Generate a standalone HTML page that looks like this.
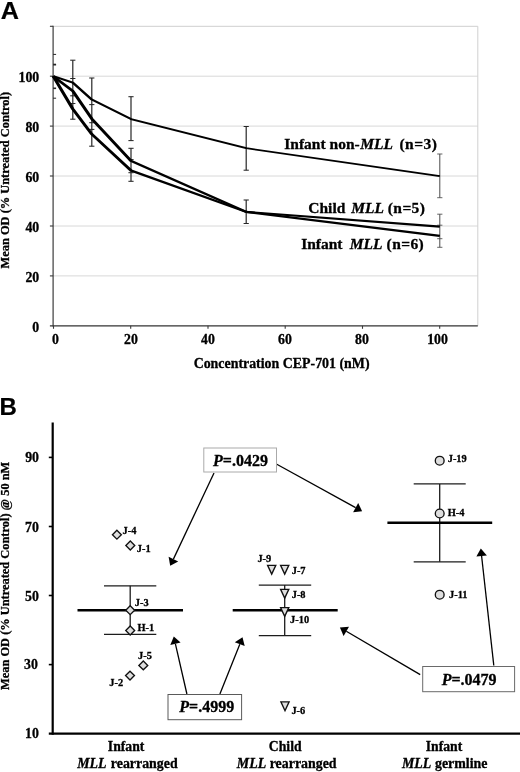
<!DOCTYPE html>
<html><head><meta charset="utf-8"><title>Figure</title>
<style>
html,body{margin:0;padding:0;background:#fff;}
body{width:520px;height:772px;overflow:hidden;font-family:"Liberation Serif",serif;}
svg{display:block;will-change:transform;}
text{font-family:"Liberation Serif",serif;font-weight:bold;fill:#000;stroke:#000;stroke-width:0.3px;}
.sans{font-family:"Liberation Sans",sans-serif;font-weight:bold;stroke-width:0.2px;}
.i{font-style:italic;}
</style></head><body>
<svg width="520" height="772" viewBox="0 0 520 772">
<rect width="520" height="772" fill="#fff"/>

<g id="panelA">
<text class="sans" transform="translate(0.7,18.8) scale(1.05,1)" font-size="24">A</text>
<line x1="53.1" y1="275.9" x2="477.8" y2="275.9" stroke="#d8d8d8" stroke-width="1"/>
<line x1="53.1" y1="226.0" x2="477.8" y2="226.0" stroke="#d8d8d8" stroke-width="1"/>
<line x1="53.1" y1="176.0" x2="477.8" y2="176.0" stroke="#d8d8d8" stroke-width="1"/>
<line x1="53.1" y1="126.1" x2="477.8" y2="126.1" stroke="#d8d8d8" stroke-width="1"/>
<line x1="53.1" y1="76.2" x2="477.8" y2="76.2" stroke="#d8d8d8" stroke-width="1"/>
<line x1="53.1" y1="26.3" x2="477.8" y2="26.3" stroke="#cfcfcf" stroke-width="1"/>
<line x1="477.8" y1="26.3" x2="477.8" y2="325.8" stroke="#d0d0d0" stroke-width="1"/>
<line x1="53.1" y1="25.8" x2="53.1" y2="326.40000000000003" stroke="#333" stroke-width="1.15"/>
<line x1="49.9" y1="325.8" x2="477.8" y2="325.8" stroke="#333" stroke-width="1.15"/>
<line x1="49.9" y1="275.9" x2="53.1" y2="275.9" stroke="#3a3a3a" stroke-width="1.1"/>
<line x1="49.9" y1="226.0" x2="53.1" y2="226.0" stroke="#3a3a3a" stroke-width="1.1"/>
<line x1="49.9" y1="176.0" x2="53.1" y2="176.0" stroke="#3a3a3a" stroke-width="1.1"/>
<line x1="49.9" y1="126.1" x2="53.1" y2="126.1" stroke="#3a3a3a" stroke-width="1.1"/>
<line x1="49.9" y1="76.2" x2="53.1" y2="76.2" stroke="#3a3a3a" stroke-width="1.1"/>
<line x1="49.9" y1="26.3" x2="53.1" y2="26.3" stroke="#3a3a3a" stroke-width="1.1"/>
<line x1="53.5" y1="325.8" x2="53.5" y2="328.8" stroke="#3a3a3a" stroke-width="1.1"/>
<line x1="130.7" y1="325.8" x2="130.7" y2="328.8" stroke="#3a3a3a" stroke-width="1.1"/>
<line x1="208.0" y1="325.8" x2="208.0" y2="328.8" stroke="#3a3a3a" stroke-width="1.1"/>
<line x1="285.2" y1="325.8" x2="285.2" y2="328.8" stroke="#3a3a3a" stroke-width="1.1"/>
<line x1="362.5" y1="325.8" x2="362.5" y2="328.8" stroke="#3a3a3a" stroke-width="1.1"/>
<line x1="439.7" y1="325.8" x2="439.7" y2="328.8" stroke="#3a3a3a" stroke-width="1.1"/>
<text x="39.2" y="331.8" font-size="13.8" text-anchor="end">0</text>
<text x="39.2" y="281.9" font-size="13.8" text-anchor="end">20</text>
<text x="39.2" y="232.0" font-size="13.8" text-anchor="end">40</text>
<text x="39.2" y="182.0" font-size="13.8" text-anchor="end">60</text>
<text x="39.2" y="132.1" font-size="13.8" text-anchor="end">80</text>
<text x="39.2" y="82.2" font-size="13.8" text-anchor="end">100</text>
<text x="55.5" y="344" font-size="13.8" text-anchor="middle">0</text>
<text x="131" y="344" font-size="13.8" text-anchor="middle">20</text>
<text x="208" y="344" font-size="13.8" text-anchor="middle">40</text>
<text x="285" y="344" font-size="13.8" text-anchor="middle">60</text>
<text x="362" y="344" font-size="13.8" text-anchor="middle">80</text>
<text x="437.5" y="344" font-size="13.8" text-anchor="middle">100</text>
<text x="281.6" y="368" font-size="13.9" text-anchor="middle">Concentration CEP-701 (nM)</text>
<text transform="translate(9.2,180.2) rotate(-90)" font-size="12.4" text-anchor="middle">Mean OD (% Untreated Control)</text>
<line x1="53.1" y1="54.4" x2="56.1" y2="54.4" stroke="#262626" stroke-width="1"/>
<line x1="53.1" y1="64.6" x2="56.1" y2="64.6" stroke="#262626" stroke-width="1.8"/>
<line x1="53.1" y1="88.3" x2="56.1" y2="88.3" stroke="#262626" stroke-width="1.6"/>
<line x1="53.1" y1="98.2" x2="56.1" y2="98.2" stroke="#262626" stroke-width="1"/>
<line x1="72.8" y1="60.2" x2="72.8" y2="119.2" stroke="#262626" stroke-width="1.2"/><line x1="70.2" y1="60.2" x2="75.39999999999999" y2="60.2" stroke="#262626" stroke-width="1.05"/><line x1="70.2" y1="78.5" x2="75.39999999999999" y2="78.5" stroke="#262626" stroke-width="1.05"/><line x1="70.2" y1="95.8" x2="75.39999999999999" y2="95.8" stroke="#262626" stroke-width="1.05"/><line x1="70.2" y1="103.5" x2="75.39999999999999" y2="103.5" stroke="#262626" stroke-width="1.05"/><line x1="70.2" y1="119.2" x2="75.39999999999999" y2="119.2" stroke="#262626" stroke-width="1.05"/>
<line x1="91.8" y1="78" x2="91.8" y2="146.2" stroke="#262626" stroke-width="1.2"/><line x1="89.2" y1="78" x2="94.39999999999999" y2="78" stroke="#262626" stroke-width="1.05"/><line x1="89.2" y1="104.6" x2="94.39999999999999" y2="104.6" stroke="#262626" stroke-width="1.05"/><line x1="89.2" y1="122.7" x2="94.39999999999999" y2="122.7" stroke="#262626" stroke-width="1.05"/><line x1="89.2" y1="129.4" x2="94.39999999999999" y2="129.4" stroke="#262626" stroke-width="1.05"/><line x1="89.2" y1="146.2" x2="94.39999999999999" y2="146.2" stroke="#262626" stroke-width="1.05"/>
<line x1="131" y1="96.7" x2="131" y2="140.6" stroke="#262626" stroke-width="1.2"/><line x1="128.4" y1="96.7" x2="133.6" y2="96.7" stroke="#262626" stroke-width="1.05"/><line x1="128.4" y1="140.6" x2="133.6" y2="140.6" stroke="#262626" stroke-width="1.05"/>
<line x1="131" y1="148.3" x2="131" y2="181.3" stroke="#262626" stroke-width="1.2"/><line x1="128.4" y1="148.3" x2="133.6" y2="148.3" stroke="#262626" stroke-width="1.05"/><line x1="128.4" y1="159.6" x2="133.6" y2="159.6" stroke="#262626" stroke-width="1.05"/><line x1="128.4" y1="172.7" x2="133.6" y2="172.7" stroke="#262626" stroke-width="1.05"/><line x1="128.4" y1="181.3" x2="133.6" y2="181.3" stroke="#262626" stroke-width="1.05"/>
<line x1="246.2" y1="126.5" x2="246.2" y2="170.2" stroke="#262626" stroke-width="1.2"/><line x1="243.6" y1="126.5" x2="248.79999999999998" y2="126.5" stroke="#262626" stroke-width="1.05"/><line x1="243.6" y1="170.2" x2="248.79999999999998" y2="170.2" stroke="#262626" stroke-width="1.05"/>
<line x1="246.2" y1="200" x2="246.2" y2="223.5" stroke="#262626" stroke-width="1.2"/><line x1="243.6" y1="200" x2="248.79999999999998" y2="200" stroke="#262626" stroke-width="1.05"/><line x1="243.6" y1="223.5" x2="248.79999999999998" y2="223.5" stroke="#262626" stroke-width="1.05"/>
<line x1="439.8" y1="154" x2="439.8" y2="197.7" stroke="#4a4a4a" stroke-width="1.0"/><line x1="437.2" y1="154" x2="442.40000000000003" y2="154" stroke="#4a4a4a" stroke-width="0.85"/><line x1="437.2" y1="197.7" x2="442.40000000000003" y2="197.7" stroke="#4a4a4a" stroke-width="0.85"/>
<line x1="439.8" y1="214.2" x2="439.8" y2="247.3" stroke="#4a4a4a" stroke-width="1.0"/><line x1="437.2" y1="214.2" x2="442.40000000000003" y2="214.2" stroke="#4a4a4a" stroke-width="0.85"/><line x1="437.2" y1="225.2" x2="442.40000000000003" y2="225.2" stroke="#4a4a4a" stroke-width="0.85"/><line x1="437.2" y1="238.7" x2="442.40000000000003" y2="238.7" stroke="#4a4a4a" stroke-width="0.85"/><line x1="437.2" y1="247.3" x2="442.40000000000003" y2="247.3" stroke="#4a4a4a" stroke-width="0.85"/>
<polyline transform="scale(1.5,1)" points="35.467,76.2 48.533,82.6 61.200,99.6 87.333,119.1 164.133,148.2 293.200,176.2" fill="none" stroke="#000" stroke-width="1.85" stroke-linejoin="round" stroke-linecap="butt"/>
<polyline transform="scale(1.5,1)" points="35.467,76.2 48.533,91 61.200,118.8 87.333,160.8 164.133,211.9 293.200,226.7" fill="none" stroke="#000" stroke-width="2.2" stroke-linejoin="round" stroke-linecap="butt"/>
<polyline transform="scale(1.5,1)" points="35.467,76.2 48.533,109 61.200,134.2 87.333,170.5 164.133,211.9 293.200,235.8" fill="none" stroke="#000" stroke-width="2.2" stroke-linejoin="round" stroke-linecap="butt"/>
<text y="149.2" font-size="15.5"><tspan x="284.3">Infant non-</tspan><tspan class="i" x="360.3">MLL</tspan><tspan x="399.4" letter-spacing="0.5">(n=3)</tspan></text>
<text y="213.1" font-size="15.5"><tspan x="308.3">Child</tspan><tspan class="i" x="351.2">MLL</tspan><tspan x="387.8" letter-spacing="0.4">(n=5)</tspan></text>
<text y="248.5" font-size="15.5"><tspan x="301.2">Infant</tspan><tspan class="i" x="349.7">MLL</tspan><tspan x="386.6" letter-spacing="0.4">(n=6)</tspan></text>
</g>
<g id="panelB">
<text class="sans" transform="translate(-0.5,414.9)" font-size="24">B</text>
<line x1="52.7" y1="422.5" x2="52.7" y2="734.7" stroke="#000" stroke-width="2.2"/>
<line x1="48.8" y1="733.6" x2="520" y2="733.6" stroke="#000" stroke-width="2.2"/>
<line x1="48.8" y1="664.6" x2="52.7" y2="664.6" stroke="#000" stroke-width="1.6"/>
<line x1="48.8" y1="595.5" x2="52.7" y2="595.5" stroke="#000" stroke-width="1.6"/>
<line x1="48.8" y1="526.5" x2="52.7" y2="526.5" stroke="#000" stroke-width="1.6"/>
<line x1="48.8" y1="457.4" x2="52.7" y2="457.4" stroke="#000" stroke-width="1.6"/>
<text x="38.9" y="738.4" font-size="13.8" text-anchor="end">10</text>
<text x="37.8" y="668.9" font-size="13.8" text-anchor="end">30</text>
<text x="38.8" y="600.6" font-size="13.8" text-anchor="end">50</text>
<text x="38.8" y="532.4" font-size="13.8" text-anchor="end">70</text>
<text x="39.0" y="462.2" font-size="13.8" text-anchor="end">90</text>
<text transform="translate(9.2,575.8) rotate(-90)" font-size="12.4" text-anchor="middle">Mean OD (% Untreated Control) @ 50 nM</text>
<text x="126.1" y="751.2" font-size="13.7" text-anchor="middle">Infant</text>
<text y="767.6" font-size="13.9"><tspan class="i" x="77.2">MLL</tspan><tspan x="110.8">rearranged</tspan></text>
<text x="285.2" y="751.2" font-size="13.7" text-anchor="middle">Child</text>
<text y="767.6" font-size="13.9"><tspan class="i" x="236.8">MLL</tspan><tspan x="269.7">rearranged</tspan></text>
<text x="444" y="751.2" font-size="13.7" text-anchor="middle">Infant</text>
<text y="767.6" font-size="13.9"><tspan class="i" x="401.9">MLL</tspan><tspan x="435">germline</tspan></text>
<line x1="104" y1="585.8" x2="156.3" y2="585.8" stroke="#1c1c1c" stroke-width="1.3"/>
<line x1="104" y1="634.4" x2="156.3" y2="634.4" stroke="#1c1c1c" stroke-width="1.3"/>
<line x1="130.2" y1="585.8" x2="130.2" y2="634.4" stroke="#1c1c1c" stroke-width="1.3"/>
<line x1="77.5" y1="610.2" x2="183" y2="610.2" stroke="#000" stroke-width="2.6"/>
<line x1="258.8" y1="585.1" x2="311.2" y2="585.1" stroke="#1c1c1c" stroke-width="1.3"/>
<line x1="258.8" y1="635.7" x2="311.2" y2="635.7" stroke="#1c1c1c" stroke-width="1.3"/>
<line x1="284.7" y1="585.1" x2="284.7" y2="635.7" stroke="#1c1c1c" stroke-width="1.3"/>
<line x1="232.7" y1="610.2" x2="337.7" y2="610.2" stroke="#000" stroke-width="2.6"/>
<line x1="413.7" y1="483.9" x2="465.7" y2="483.9" stroke="#1c1c1c" stroke-width="1.3"/>
<line x1="413.7" y1="561.8" x2="465.7" y2="561.8" stroke="#1c1c1c" stroke-width="1.3"/>
<line x1="439.7" y1="483.9" x2="439.7" y2="561.8" stroke="#1c1c1c" stroke-width="1.3"/>
<line x1="387.4" y1="522.8" x2="492.2" y2="522.8" stroke="#000" stroke-width="2.6"/>
<polygon points="116.9,530.25 121.35000000000001,534.7 116.9,539.1500000000001 112.45,534.7" fill="#dedede" stroke="#111" stroke-width="1.35"/>
<polygon points="130.3,541.05 134.75,545.5 130.3,549.95 125.85000000000001,545.5" fill="#dedede" stroke="#111" stroke-width="1.35"/>
<polygon points="130.2,605.75 134.64999999999998,610.2 130.2,614.6500000000001 125.74999999999999,610.2" fill="#dedede" stroke="#111" stroke-width="1.35"/>
<polygon points="130.2,626.05 134.64999999999998,630.5 130.2,634.95 125.74999999999999,630.5" fill="#dedede" stroke="#111" stroke-width="1.35"/>
<polygon points="143.3,660.9499999999999 147.75,665.4 143.3,669.85 138.85000000000002,665.4" fill="#dedede" stroke="#111" stroke-width="1.35"/>
<polygon points="130.0,671.15 134.45,675.6 130.0,680.0500000000001 125.55,675.6" fill="#dedede" stroke="#111" stroke-width="1.35"/>
<text x="122.6" y="534.4" font-size="10.4">J-4</text>
<text x="136.8" y="551.7" font-size="10.4">J-1</text>
<text x="134.8" y="605.9" font-size="10.4">J-3</text>
<text x="137.5" y="630.5" font-size="10.4">H-1</text>
<text x="138.0" y="658.7" font-size="10.4">J-5</text>
<text x="109.3" y="685.9" font-size="10.4">J-2</text>
<polygon points="267.59999999999997,565.3 275.8,565.3 271.7,574.0999999999999" fill="#dedede" stroke="#111" stroke-width="1.35"/>
<polygon points="280.59999999999997,565.3 288.8,565.3 284.7,574.0999999999999" fill="#dedede" stroke="#111" stroke-width="1.35"/>
<polygon points="280.59999999999997,589.3 288.8,589.3 284.7,598.0999999999999" fill="#dedede" stroke="#111" stroke-width="1.35"/>
<polygon points="280.59999999999997,607.6 288.8,607.6 284.7,616.4" fill="#dedede" stroke="#111" stroke-width="1.35"/>
<polygon points="280.9,701.9 289.1,701.9 285.0,710.6999999999999" fill="#dedede" stroke="#111" stroke-width="1.35"/>
<text x="257.4" y="562.3" font-size="10.4">J-9</text>
<text x="291.7" y="574.3" font-size="10.4">J-7</text>
<text x="291.7" y="598.0" font-size="10.4">J-8</text>
<text x="290.1" y="622.5" font-size="10.4">J-10</text>
<text x="291.4" y="714.1" font-size="10.4">J-6</text>
<circle cx="439.7" cy="460.7" r="4.4" fill="#dedede" stroke="#111" stroke-width="1.35"/>
<circle cx="439.7" cy="513.5" r="4.4" fill="#dedede" stroke="#111" stroke-width="1.35"/>
<circle cx="439.7" cy="594.7" r="4.4" fill="#dedede" stroke="#111" stroke-width="1.35"/>
<text x="447.7" y="462.1" font-size="10.4">J-19</text>
<text x="447.7" y="516.0" font-size="10.4">H-4</text>
<text x="449" y="598.0" font-size="10.4">J-11</text>
<line x1="214.0" y1="473.0" x2="173.4" y2="559.1" stroke="#000" stroke-width="1.3"/><polygon points="170.2,565.8 168.6,556.8 178.2,561.4" fill="#000"/>
<line x1="276.8" y1="464.3" x2="355.6" y2="507.6" stroke="#000" stroke-width="1.3"/><polygon points="362.1,511.2 353.1,512.3 358.2,503.0" fill="#000"/>
<line x1="186.9" y1="694.0" x2="175.4" y2="643.8" stroke="#000" stroke-width="1.3"/><polygon points="173.8,636.6 180.6,642.6 170.3,645.0" fill="#000"/>
<line x1="219.9" y1="694.0" x2="239.8" y2="644.2" stroke="#000" stroke-width="1.3"/><polygon points="242.5,637.3 244.7,646.1 234.8,642.2" fill="#000"/>
<line x1="420.2" y1="674.6" x2="346.3" y2="631.3" stroke="#000" stroke-width="1.3"/><polygon points="339.9,627.6 349.0,626.8 343.6,635.9" fill="#000"/>
<line x1="493.8" y1="665.5" x2="481.6" y2="556.0" stroke="#000" stroke-width="1.3"/><polygon points="480.8,548.6 486.9,555.4 476.4,556.5" fill="#000"/>
<rect x="203.8" y="448" width="72.69999999999999" height="24" fill="#fff" stroke="#aaa" stroke-width="1"/>
<text x="213" y="466.2" font-size="16"><tspan class="i">P</tspan>=.0429</text>
<rect x="168" y="694.5" width="73.6" height="25.200000000000045" fill="#fff" stroke="#5a5a5a" stroke-width="1"/>
<text x="179.3" y="712.3" font-size="16"><tspan class="i">P</tspan>=.4999</text>
<rect x="422.7" y="666.5" width="91.90000000000003" height="25.200000000000045" fill="#fff" stroke="#6a6a6a" stroke-width="1"/>
<text x="441.7" y="684.9" font-size="16"><tspan class="i">P</tspan>=.0479</text>
</g>
</svg></body></html>
